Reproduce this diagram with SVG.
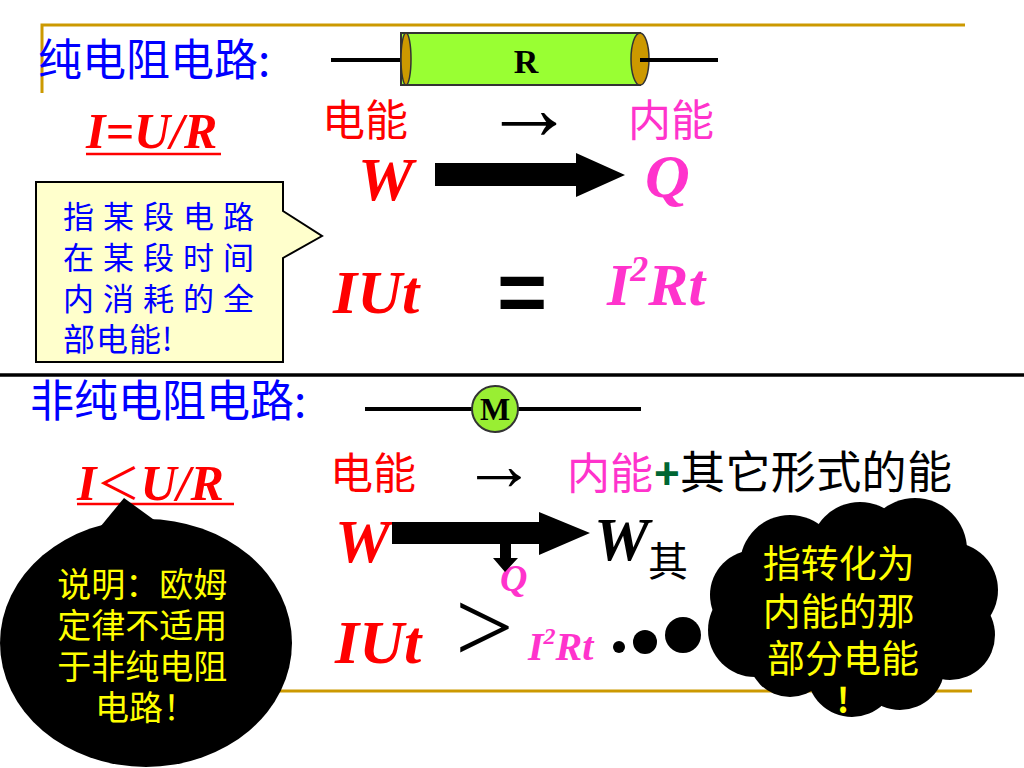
<svg xmlns="http://www.w3.org/2000/svg" width="1024" height="768" viewBox="0 0 1024 768">
<defs>
<style>
.cjk{font-family:"Noto Sans CJK SC","Noto Sans",sans-serif}
.bi{font-family:"Liberation Serif","Noto Sans CJK SC",serif;font-weight:bold;font-style:italic}
.serif{font-family:"Liberation Serif","Noto Sans CJK SC",serif}
.arr{font-family:"Liberation Serif",serif;fill:#000}
.gold{stroke:#CC9900;stroke-width:3;fill:none}
.wire{stroke:#000;stroke-width:4}
.blue{fill:#0000FF}
.red{fill:#FF0000}
.mag{fill:#FF33CC}
.yel{fill:#FFFF00}
.blk{fill:#000}
</style>
</defs>
<rect width="1024" height="768" fill="#fff"/>
<g id="frame">
<polyline class="gold" points="42,93 42,25 965,25"/>
<line class="gold" x1="42" y1="691" x2="972" y2="691"/>
<line x1="0" y1="375" x2="1024" y2="375" stroke="#000" stroke-width="3.5"/>
</g>

<g id="pure-circuit">
<text class="cjk blue" x="38" y="76" font-size="44">纯电阻电路:</text>
<g id="resistor">
<line class="wire" x1="331" y1="60" x2="403" y2="60"/>
<rect x="401" y="33" width="239" height="52" fill="#99FF33" stroke="#333" stroke-width="2"/>
<ellipse cx="406" cy="59" rx="5" ry="26" fill="#CC9900" stroke="#333" stroke-width="1.5"/>
<ellipse cx="640" cy="59" rx="9" ry="26" fill="#CC9900" stroke="#333" stroke-width="1.5"/>
<line class="wire" x1="640" y1="60" x2="718" y2="60"/>
<text class="serif blk" x="526" y="73" font-size="34" font-weight="bold" text-anchor="middle">R</text>
</g>
<g id="ohm-pure">
<text class="bi red" x="86" y="148" font-size="50">I=U/R</text>
<line x1="86" y1="154" x2="221" y2="154" stroke="#FF0000" stroke-width="2.5"/>
</g>
<g id="callout-pure">
<path d="M36,182 H283 V211 L322,236 L283,258 V362 H36 Z" fill="#FFFFCC" stroke="#000" stroke-width="2"/>
<text class="cjk blue" font-size="31" letter-spacing="9">
<tspan x="63" y="228">指某段电路</tspan>
<tspan x="63" y="269">在某段时间</tspan>
<tspan x="63" y="310">内消耗的全</tspan>
</text>
<text class="cjk blue" x="63" y="351" font-size="32" letter-spacing="1">部电能!</text>
</g>
<g id="energy-pure">
<text class="cjk red" x="322" y="136" font-size="43">电能</text>
<text class="arr" x="483" y="139" font-size="92">→</text>
<text class="cjk mag" x="628" y="136" font-size="43">内能</text>
<text class="bi red" x="358" y="200" font-size="62">W</text>
<text class="bi mag" x="645" y="197" font-size="62">Q</text>
<text class="bi red" x="333" y="313" font-size="62">IUt</text>
<text x="497" y="321" font-size="86" font-weight="bold" font-family="Liberation Sans,sans-serif" class="blk">=</text>
<text class="bi mag" x="607" y="305" font-size="60">I<tspan dy="-24" font-size="36">2</tspan><tspan dy="24">Rt</tspan></text>
</g>
</g>

<g id="nonpure-circuit">
<text class="cjk blue" x="30" y="417" font-size="44">非纯电阻电路:</text>
<g id="motor">
<line class="wire" x1="365" y1="409" x2="472" y2="409"/>
<line class="wire" x1="518" y1="409" x2="641" y2="409"/>
<circle cx="495" cy="409" r="23" fill="#99EE33" stroke="#333" stroke-width="2"/>
<text class="serif blk" x="495" y="420" font-size="32" font-weight="bold" text-anchor="middle">M</text>
</g>
<g id="ohm-nonpure">
<text class="bi red" x="77" y="500" font-size="50">I<tspan font-family="Noto Sans CJK SC,sans-serif" font-style="normal" font-weight="normal" font-size="44">＜</tspan>U/R</text>
<line x1="77" y1="504" x2="234" y2="504" stroke="#FF0000" stroke-width="2.5"/>
</g>
<g id="energy-nonpure">
<text class="cjk red" x="330" y="489" font-size="43">电能</text>
<text class="arr" x="462" y="490" font-size="74">→</text>
<text class="cjk mag" x="567" y="489" font-size="43">内能</text>
<text x="654" y="489" font-size="44" font-weight="bold" font-family="Liberation Sans,sans-serif" fill="#006633">+</text>
<text class="cjk blk" x="680" y="489" font-size="45" textLength="272" lengthAdjust="spacing">其它形式的能</text>
<text class="bi red" x="335" y="562" font-size="62">W</text>
<text class="bi blk" x="594" y="560" font-size="62">W</text>
<text class="cjk blk" x="648" y="576" font-size="40">其</text>
<text class="bi mag" x="500" y="591" font-size="38">Q</text>
<text class="bi red" x="335" y="663" font-size="62">IUt</text>
<text class="serif blk" x="455" y="662" font-size="104">&gt;</text>
<text class="bi mag" x="528" y="660" font-size="40">I<tspan dy="-16" font-size="24">2</tspan><tspan dy="16">Rt</tspan></text>
</g>
</g>

<g id="connectors">
<polygon id="arrow-pure" points="435,163 576,163 576,153 625,175 576,197 576,186 435,186" fill="#000"/>
<polygon id="arrow-nonpure" points="392,522 539,522 539,512 590,533 539,555 539,544 392,544" fill="#000"/>
<polygon id="arrow-heat" points="500,543 511,543 511,558 518,558 505,572 493,558 500,558" fill="#000"/>
</g>

<g id="callout-ohm">
<ellipse cx="146" cy="643" rx="146" ry="124" fill="#000"/>
<polygon points="96,532 124,498 168,530" fill="#000"/>
<text class="cjk yel" font-size="34" text-anchor="middle">
<tspan x="146" y="597">说明：欧姆</tspan>
<tspan x="146" y="638">定律不适用</tspan>
<tspan x="146" y="679">于非纯电阻</tspan>
<tspan x="146" y="720">电路！</tspan>
</text>
</g>

<g id="callout-cloud">
<circle cx="619" cy="647" r="6" fill="#000"/>
<circle cx="645" cy="642" r="12" fill="#000"/>
<circle cx="683" cy="635" r="18" fill="#000"/>
<g fill="#000">
<circle cx="790" cy="565" r="50"/>
<circle cx="860" cy="552" r="50"/>
<circle cx="915" cy="550" r="52"/>
<circle cx="950" cy="590" r="48"/>
<circle cx="950" cy="635" r="45"/>
<circle cx="900" cy="665" r="45"/>
<circle cx="852" cy="672" r="45"/>
<circle cx="790" cy="655" r="42"/>
<circle cx="755" cy="630" r="47"/>
<circle cx="755" cy="595" r="45"/>
<ellipse cx="853" cy="610" rx="110" ry="85"/>
</g>
<text class="cjk yel" font-size="38" text-anchor="middle">
<tspan x="843" y="577">指转化为</tspan>
<tspan x="843" y="625">内能的那</tspan>
<tspan x="843" y="672">部分电能</tspan>
</text>
<text class="cjk yel" x="843" y="713" font-size="34" text-anchor="middle" font-weight="bold">!</text>
</g>
</svg>
